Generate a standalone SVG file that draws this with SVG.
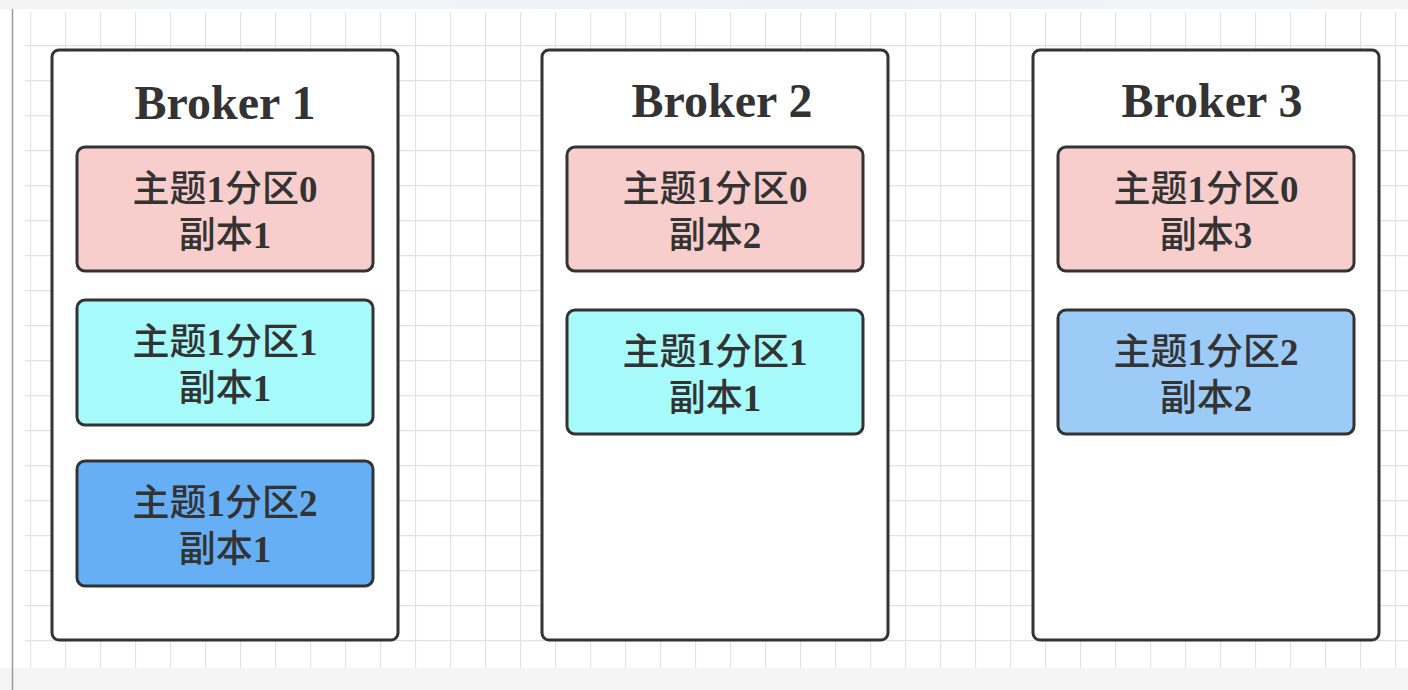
<svg xmlns="http://www.w3.org/2000/svg" width="1408" height="690" viewBox="0 0 1408 690">
<defs>
<pattern id="grid" x="30" y="10" width="35" height="35" patternUnits="userSpaceOnUse">
<path d="M0.5 0 V35 M0 0.5 H35" fill="none" stroke="#e2e2e2" stroke-width="1.3"/>
</pattern>
<linearGradient id="topband" x1="0" x2="1" y1="0" y2="0">
<stop offset="0" stop-color="#f3f3f3"/>
<stop offset="0.6" stop-color="#eef2f7"/>
<stop offset="1" stop-color="#f3f3f3"/>
</linearGradient>
</defs>
<style>
.broker{fill:#ffffff;stroke:#333333;stroke-width:3}
.part{stroke:#333333;stroke-width:3}
.p0{fill:#f8cecc}
.p1{fill:#a6fafa}
.p2a{fill:#66aff5}
.p2b{fill:#9ccbf8}
.title{font-family:"Liberation Serif","Noto Sans CJK SC",serif;font-weight:bold;font-size:48px;fill:#333333;text-anchor:middle}
.lbl{font-family:"Liberation Serif","Noto Sans CJK SC",serif;font-size:37px;fill:#333333;text-anchor:middle}
.cj{font-weight:500}
.dg{font-weight:bold}
</style>
<rect x="0" y="0" width="1408" height="690" fill="#ffffff"/>
<rect x="0" y="0" width="1408" height="9" fill="url(#topband)"/>
<rect x="25" y="12" width="1383" height="656" fill="url(#grid)"/>
<rect x="0" y="668" width="1408" height="22" fill="#f5f5f5"/>
<line x1="12.5" y1="9" x2="12.5" y2="690" stroke="#9a9a9a" stroke-width="1.5"/>

<g id="connectors"></g>

<g id="broker1">
<rect class="broker" x="52" y="50" width="346" height="590" rx="7"/>
<text class="title" x="225" y="119">Broker 1</text>
</g>
<g id="b1p0">
<rect class="part p0" x="77" y="147" width="296" height="124" rx="8"/>
<text class="lbl" x="225" y="202"><tspan class="cj">主题</tspan><tspan class="dg">1</tspan><tspan class="cj">分区</tspan><tspan class="dg">0</tspan></text>
<text class="lbl" x="225" y="248"><tspan class="cj">副本</tspan><tspan class="dg">1</tspan></text>
</g>
<g id="b1p1">
<rect class="part p1" x="77" y="300" width="296" height="125" rx="8"/>
<text class="lbl" x="225" y="355"><tspan class="cj">主题</tspan><tspan class="dg">1</tspan><tspan class="cj">分区</tspan><tspan class="dg">1</tspan></text>
<text class="lbl" x="225" y="401"><tspan class="cj">副本</tspan><tspan class="dg">1</tspan></text>
</g>
<g id="b1p2">
<rect class="part p2a" x="77" y="461" width="296" height="125" rx="8"/>
<text class="lbl" x="225" y="516"><tspan class="cj">主题</tspan><tspan class="dg">1</tspan><tspan class="cj">分区</tspan><tspan class="dg">2</tspan></text>
<text class="lbl" x="225" y="562"><tspan class="cj">副本</tspan><tspan class="dg">1</tspan></text>
</g>

<g id="broker2">
<rect class="broker" x="542" y="50" width="346" height="590" rx="7"/>
<text class="title" x="722" y="117">Broker 2</text>
</g>
<g id="b2p0">
<rect class="part p0" x="567" y="147" width="296" height="124" rx="8"/>
<text class="lbl" x="715" y="202"><tspan class="cj">主题</tspan><tspan class="dg">1</tspan><tspan class="cj">分区</tspan><tspan class="dg">0</tspan></text>
<text class="lbl" x="715" y="248"><tspan class="cj">副本</tspan><tspan class="dg">2</tspan></text>
</g>
<g id="b2p1">
<rect class="part p1" x="567" y="310" width="296" height="124" rx="8"/>
<text class="lbl" x="715" y="365"><tspan class="cj">主题</tspan><tspan class="dg">1</tspan><tspan class="cj">分区</tspan><tspan class="dg">1</tspan></text>
<text class="lbl" x="715" y="411"><tspan class="cj">副本</tspan><tspan class="dg">1</tspan></text>
</g>

<g id="broker3">
<rect class="broker" x="1033" y="50" width="346" height="590" rx="7"/>
<text class="title" x="1212" y="117">Broker 3</text>
</g>
<g id="b3p0">
<rect class="part p0" x="1058" y="147" width="296" height="124" rx="8"/>
<text class="lbl" x="1206" y="202"><tspan class="cj">主题</tspan><tspan class="dg">1</tspan><tspan class="cj">分区</tspan><tspan class="dg">0</tspan></text>
<text class="lbl" x="1206" y="248"><tspan class="cj">副本</tspan><tspan class="dg">3</tspan></text>
</g>
<g id="b3p2">
<rect class="part p2b" x="1058" y="310" width="296" height="124" rx="8"/>
<text class="lbl" x="1206" y="365"><tspan class="cj">主题</tspan><tspan class="dg">1</tspan><tspan class="cj">分区</tspan><tspan class="dg">2</tspan></text>
<text class="lbl" x="1206" y="411"><tspan class="cj">副本</tspan><tspan class="dg">2</tspan></text>
</g>
</svg>
